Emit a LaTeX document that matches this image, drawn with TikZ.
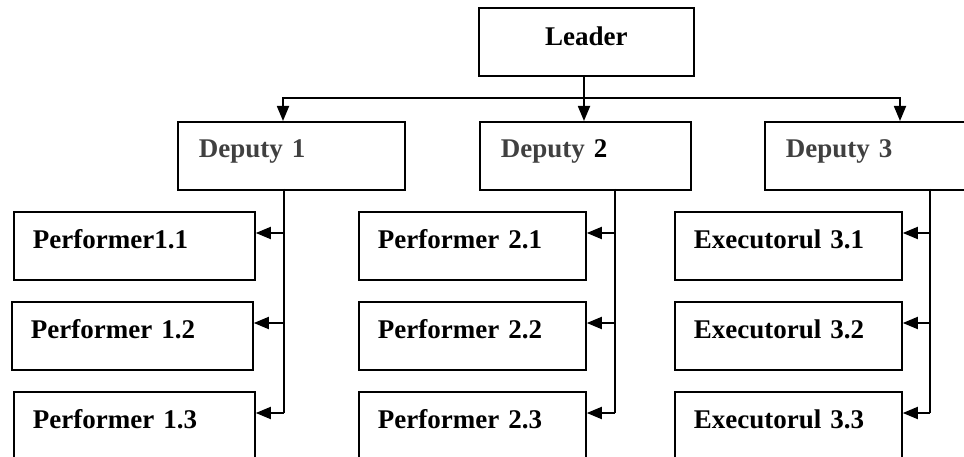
\documentclass[tikz,border=0pt]{standalone}
\usepackage{fontspec}
\setmainfont{Liberation Serif}
\usetikzlibrary{arrows.meta}
\definecolor{depgray}{HTML}{404040}
\begin{document}
\begin{tikzpicture}[x=1pt,y=-1pt,
  every node/.style={font=\fontsize{27}{32}\selectfont\bfseries},
  boxbase/.style={draw, line width=1.8pt, inner ysep=0pt, anchor=north west},
  pbox/.style={boxbase, inner xsep=19pt, text width=#1, align=left, text height=37pt, text depth=31pt},
  dbox/.style={boxbase, inner xsep=21pt, text width=#1, align=left, text height=36pt, text depth=32pt, text=depgray},
  conn/.style={line width=1.8pt},
  arr/.style={conn, -{Triangle[length=15pt,width=12pt]}}
]
\useasboundingbox (0,0) rectangle (964,457);
\clip (0,0) rectangle (964,457);

% leader
\node[boxbase, minimum width=215pt, inner xsep=0pt, align=center, text height=38pt, text depth=30pt] (lead) at (478,7) {Leader};

% deputies
\node[dbox=185pt] (d1) at (177,121) {Deputy 1};
\node[dbox=169pt] (d2) at (479,121) {Deputy \textcolor{black}{2}};
\node[dbox=185pt] (d3) at (764,121) {Deputy 3};

% performers
\node[pbox=203pt] (p11) at (13,211) {Performer1.1};
\node[pbox=203pt] (p12) at (11,301) {Performer 1.2};
\node[pbox=203pt] (p13) at (13,391) {Performer 1.3};
\node[pbox=189pt] (p21) at (358,211) {Performer 2.1};
\node[pbox=189pt] (p22) at (358,301) {Performer 2.2};
\node[pbox=189pt, text depth=40pt] (p23) at (358,391) {Performer 2.3};
\node[pbox=189pt] (p31) at (674,211) {Executorul 3.1};
\node[pbox=189pt] (p32) at (674,301) {Executorul 3.2};
\node[pbox=189pt, text depth=40pt] (p33) at (674,391) {Executorul 3.3};

% leader to deputies
\coordinate (hub) at (584,98);
\coordinate (hl) at (283,98);
\coordinate (hr) at (900,98);
\draw[conn] (hub |- lead.south) -- (hub);
\draw[arr] (hub) -- (hub |- d2.north);
\draw[arr] (hub) -- (hl) -- (hl |- d1.north);
\draw[arr] (hub) -- (hr) -- (hr |- d3.north);

% spines
\coordinate (s1) at (284,189);
\coordinate (s2) at (615,189);
\coordinate (s3) at (930,189);
\foreach \c/\s in {1/s1,2/s2,3/s3}{
  \foreach \r in {1,2,3}{
    \coordinate (in\c\r) at ([yshift=-22pt]p\c\r.north east);
    \draw[arr] (\s |- in\c\r) -- (in\c\r);
  }
  \draw[conn] (\s) -- (\s |- in\c3);
}
\end{tikzpicture}
\end{document}
